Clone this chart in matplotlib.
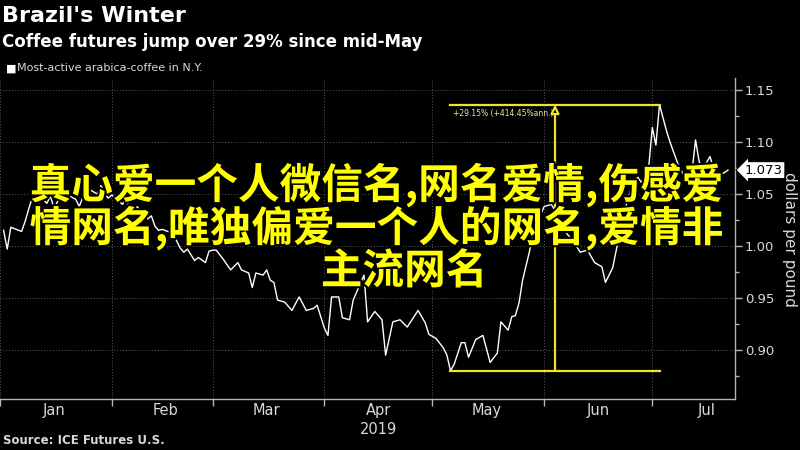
import matplotlib
matplotlib.use("Agg")
import matplotlib.pyplot as plt
import matplotlib.dates as mdates
import matplotlib.patheffects as pe
from matplotlib.ticker import MultipleLocator, FormatStrFormatter, NullFormatter
import numpy as np
import pandas as pd

# most-active arabica coffee, dollars per pound
dates = [
    "01-02", "01-03", "01-04", "01-07", "01-08", "01-09", "01-10", "01-11", "01-14", "01-15",
    "01-16", "01-17", "01-18", "01-22", "01-23", "01-24", "01-25", "01-28", "01-29", "01-30",
    "01-31", "02-01", "02-04", "02-05", "02-06", "02-07", "02-08", "02-11", "02-12", "02-13",
    "02-14", "02-15", "02-18", "02-20", "02-21", "02-22", "02-24", "02-25", "02-27", "02-28",
    "03-01", "03-02", "03-04", "03-06", "03-08", "03-09", "03-11", "03-12", "03-13", "03-15",
    "03-16", "03-17", "03-18", "03-19", "03-21", "03-23", "03-25", "03-27", "03-29", "03-30",
    "04-01", "04-02", "04-03", "04-05", "04-06", "04-08", "04-09", "04-11", "04-12", "04-13",
    "04-15", "04-17", "04-18", "04-20", "04-22", "04-24", "04-27", "04-29", "04-30",
    "05-02", "05-04", "05-05", "05-06", "05-07", "05-09", "05-10", "05-11", "05-13", "05-15",
    "05-17", "05-19", "05-20", "05-22", "05-23", "05-24", "05-25", "05-26", "05-28", "05-29",
    "05-31", "06-01", "06-03", "06-05", "06-07", "06-09", "06-11", "06-13", "06-15", "06-17",
    "06-18", "06-20", "06-21", "06-23", "06-25", "06-26", "06-27", "06-28", "06-30", "07-01",
    "07-02", "07-03", "07-05", "07-06", "07-08", "07-10", "07-11", "07-12", "07-13", "07-14",
    "07-15", "07-16", "07-17", "07-18", "07-19", "07-22",
]
price = [
    1.015, 0.997, 1.018, 1.014, 1.024, 1.036, 1.047, 1.053, 1.041, 1.048,
    1.036, 1.043, 1.052, 1.045, 1.038, 1.047, 1.056, 1.050, 1.058, 1.051,
    1.046, 1.049, 1.040, 1.047, 1.034, 1.030, 1.038, 1.026, 1.029, 1.019,
    1.015, 1.016, 1.012, 0.998, 0.994, 0.997, 0.986, 0.989, 0.984, 0.995,
    0.996, 0.996, 0.987, 0.977, 0.984, 0.977, 0.974, 0.960, 0.974, 0.972,
    0.977, 0.967, 0.965, 0.948, 0.946, 0.938, 0.951, 0.938, 0.940, 0.943,
    0.921, 0.914, 0.951, 0.951, 0.931, 0.929, 0.948, 0.964, 0.972, 0.927,
    0.937, 0.929, 0.895, 0.927, 0.929, 0.922, 0.938, 0.926, 0.915,
    0.911, 0.902, 0.895, 0.880, 0.886, 0.907, 0.907, 0.893, 0.910, 0.914,
    0.888, 0.897, 0.927, 0.919, 0.932, 0.933, 0.945, 0.967, 0.996, 1.015,
    1.030, 1.038, 1.040, 1.028, 1.013, 1.005, 0.994, 0.996, 0.984, 0.980,
    0.965, 0.979, 0.996, 1.030, 1.054, 1.063, 1.066, 1.061, 1.076, 1.114,
    1.097, 1.136, 1.110, 1.099, 1.080, 1.066, 1.070, 1.071, 1.102, 1.081,
    1.075, 1.080, 1.086, 1.075, 1.066, 1.073,
]
yticks = [0.90, 0.95, 1.00, 1.05, 1.10, 1.15]
overlay = ["真心爱一个人微信名,网名爱情,伤感爱", "情网名,唯独偏爱一个人的网名,爱情非", "主流网名"]

x = pd.to_datetime(["2019-" + d for d in dates])
price = np.array(price)

fig = plt.figure(figsize=(8, 4.5), dpi=100, facecolor="black")
ax = fig.add_axes([0.0, 0.1133, 0.919, 0.7134])
ax.set_facecolor("black")

ax.plot(x, price, color="white", lw=1.0, zorder=3)

ax.set_xlim(pd.Timestamp("2019-01-01"), pd.Timestamp("2019-07-24"))
ax.set_ylim(0.8528, 1.1616)

# spines / ticks
for s in ["left", "top"]:
    ax.spines[s].set_visible(False)
for s in ["right", "bottom"]:
    ax.spines[s].set_color("#b5b5b5")
    ax.spines[s].set_linewidth(1.0)

ax.yaxis.tick_right()
ax.set_yticks(yticks)
ax.yaxis.set_minor_locator(MultipleLocator(0.025))
ax.yaxis.set_major_formatter(FormatStrFormatter("%.2f"))
ax.tick_params(axis="y", which="major", direction="out", length=5, width=1,
               colors="#b5b5b5", labelcolor="#d8d8d8", labelsize=9.5, pad=2)
ax.tick_params(axis="y", which="minor", direction="out", length=3, width=1, colors="#b5b5b5")

ax.xaxis.set_major_locator(mdates.MonthLocator())
ax.xaxis.set_major_formatter(NullFormatter())
ax.xaxis.set_minor_locator(mdates.MonthLocator(bymonthday=16))
ax.xaxis.set_minor_formatter(mdates.DateFormatter("%b"))
ax.tick_params(axis="x", which="major", direction="out", length=5, width=1, colors="#b5b5b5")
ax.tick_params(axis="x", which="minor", length=0, labelcolor="#d8d8d8", labelsize=10.5, pad=3)

ax.grid(which="major", color="#5a5a5a", linestyle=(0, (1, 2)), lw=0.7)

ax.text(pd.Timestamp("2019-04-16"), -0.072, "2019", transform=ax.get_xaxis_transform(),
        ha="center", va="top", color="#d8d8d8", fontsize=10.5)

# high/low measurement
yel = "#f2e22a"
i_lo = int(np.argmin(price))
i_hi = i_lo + int(np.argmax(price[i_lo:]))
x_lo, x_hi = x[i_lo], x[i_hi]
x_mid = x_lo + (x_hi - x_lo) / 2
ax.plot([x_lo, x_hi], [price[i_lo], price[i_lo]], color=yel, lw=1.6, zorder=4)
ax.plot([x_lo, x_hi], [price[i_hi], price[i_hi]], color=yel, lw=1.6, zorder=4)
ax.annotate("", xy=(x_mid, price[i_hi]), xytext=(x_mid, price[i_lo]),
            arrowprops=dict(arrowstyle="-|>,head_length=0.5,head_width=0.25", color=yel,
                            lw=1.6, shrinkA=0, shrinkB=0, fc="black"), zorder=4)
ax.annotate("+29.15% (+414.45%ann.)", xy=(x_lo, price[i_hi]), xytext=(2, -3),
            textcoords="offset points", ha="left", va="top", fontsize=5.5, color="#eee6a0")

# last value tag
ax.annotate(f"{price[-1]:.3f}", xy=(1, price[-1]), xycoords=("axes fraction", "data"),
            xytext=(7, 0), textcoords="offset points", ha="left", va="center",
            fontsize=9.5, color="black",
            bbox=dict(boxstyle="larrow,pad=0.15", fc="white", ec="black", lw=0.8),
            annotation_clip=False, zorder=6)

fig.text(0.9875, 0.467, "dollars per pound", rotation=-90, ha="center", va="center",
         color="#d8d8d8", fontsize=11)

# titles
fig.text(0.003, 0.965, "Brazil's Winter", color="white", fontsize=16, fontweight="bold",
         ha="left", va="center")
fig.text(0.003, 0.907, "Coffee futures jump over 29% since mid-May", color="white",
         fontsize=12, fontweight="bold", ha="left", va="center")
fig.text(0.007, 0.848, "■", color="white", fontsize=8, ha="left", va="center")
fig.text(0.021, 0.848, "Most-active arabica-coffee in N.Y.", color="#d8d8d8",
         fontsize=8, ha="left", va="center")
fig.text(0.004, 0.022, "Source: ICE Futures U.S.", color="#d8d8d8", fontsize=8.5,
         fontweight="bold", ha="left", va="center")

# overlaid caption
for line, xx, yy in zip(overlay, [0.47, 0.47, 0.505], [0.589, 0.493, 0.396]):
    fig.text(xx, yy, line, ha="center", va="center", color="#ffff00", fontsize=30,
             fontweight="bold", family=["Noto Sans CJK SC", "DejaVu Sans"],
             path_effects=[pe.withStroke(linewidth=3, foreground="black")], zorder=10)

fig.savefig("out.png", dpi=100, facecolor="black")
